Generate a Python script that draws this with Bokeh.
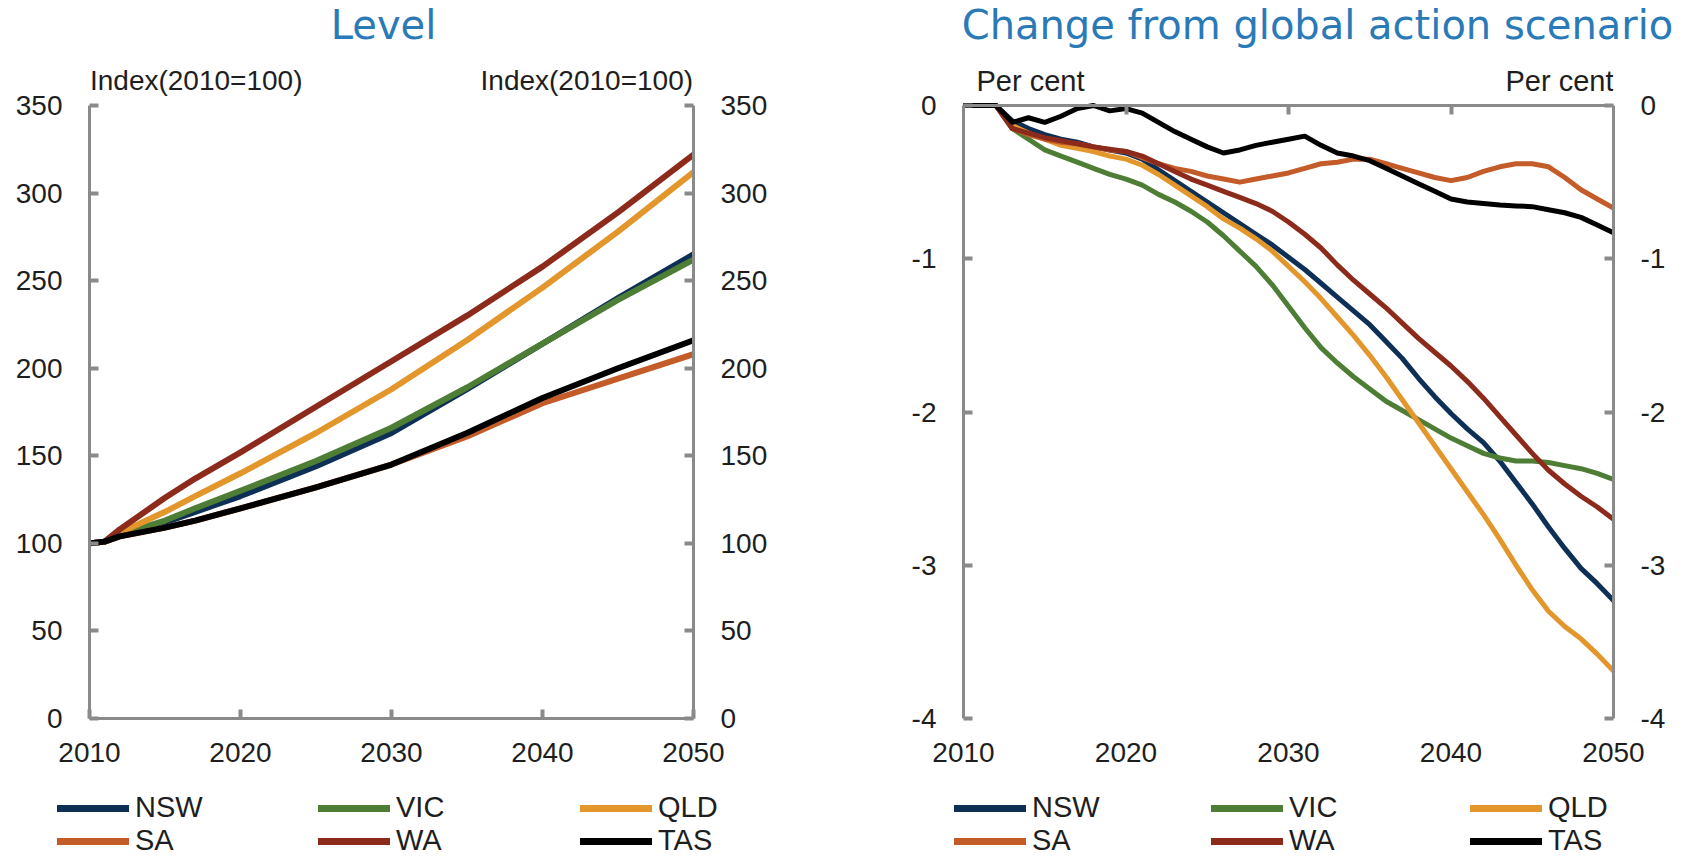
from bokeh.plotting import figure
from bokeh.layouts import row, column
from bokeh.models import (Range1d, FixedTicker, LinearAxis, Label, Legend, LegendItem,
                          PrintfTickFormatter)
from bokeh.embed import file_html
from bokeh.resources import INLINE

# ---------------- data ----------------
STATES = ["NSW", "VIC", "QLD", "SA", "WA", "TAS"]
COLORS = {"NSW": "#0e2f56", "VIC": "#4e7d36", "QLD": "#e3962b",
          "SA": "#c45c2a", "WA": "#8c2a1c", "TAS": "#000000"}

LEVEL_YEARS = [2010, 2011, 2012, 2015, 2017, 2020, 2025, 2030, 2035, 2040, 2045, 2050]
LEVEL_NSW = [100, 101, 105, 112, 118, 127, 144, 163, 188, 214, 240, 265]
LEVEL_VIC = [100, 101, 105, 113, 120, 130, 147, 166, 189, 214, 239, 262]
LEVEL_QLD = [100, 101, 106, 118, 127, 140, 163, 188, 216, 246, 278, 312]
LEVEL_SA = [100, 101, 104, 109, 113, 120, 132, 145, 161, 180, 194, 208]
LEVEL_WA = [100, 101, 108, 126, 137, 152, 178, 204, 230, 258, 289, 322]
LEVEL_TAS = [100, 101, 104, 109, 113, 120, 132, 145, 163, 183, 200, 216]

CHG_YEARS = list(range(2010, 2051))
CHG_NSW = [0, 0, 0, -0.10, -0.15, -0.19, -0.22, -0.24, -0.27, -0.29, -0.31, -0.35, -0.42, -0.49,
           -0.56, -0.63, -0.70, -0.77, -0.84, -0.91, -0.99, -1.07, -1.16, -1.25, -1.34, -1.43,
           -1.54, -1.65, -1.78, -1.90, -2.01, -2.11, -2.20, -2.32, -2.46, -2.60, -2.75, -2.89,
           -3.02, -3.12, -3.23]
CHG_VIC = [0, 0, 0, -0.15, -0.22, -0.29, -0.33, -0.37, -0.41, -0.45, -0.48, -0.52, -0.58, -0.63,
           -0.69, -0.76, -0.85, -0.95, -1.05, -1.17, -1.31, -1.45, -1.58, -1.68, -1.77, -1.85,
           -1.93, -1.99, -2.05, -2.11, -2.17, -2.22, -2.27, -2.30, -2.32, -2.32, -2.33, -2.35,
           -2.37, -2.40, -2.44]
CHG_QLD = [0, 0, 0, -0.13, -0.18, -0.22, -0.26, -0.28, -0.30, -0.33, -0.35, -0.39, -0.45, -0.52,
           -0.59, -0.66, -0.74, -0.80, -0.87, -0.95, -1.05, -1.15, -1.26, -1.38, -1.50, -1.63,
           -1.77, -1.92, -2.07, -2.22, -2.37, -2.52, -2.67, -2.83, -3.00, -3.16, -3.30, -3.40,
           -3.48, -3.58, -3.69]
CHG_SA = [0, 0, 0, -0.15, -0.19, -0.22, -0.24, -0.25, -0.27, -0.29, -0.30, -0.34, -0.38, -0.41,
          -0.43, -0.46, -0.48, -0.50, -0.48, -0.46, -0.44, -0.41, -0.38, -0.37, -0.35, -0.35,
          -0.38, -0.41, -0.44, -0.47, -0.49, -0.47, -0.43, -0.40, -0.38, -0.38, -0.40, -0.47,
          -0.55, -0.61, -0.67]
CHG_WA = [0, 0, 0, -0.15, -0.18, -0.21, -0.23, -0.25, -0.27, -0.285, -0.30, -0.33, -0.38, -0.43,
          -0.48, -0.52, -0.56, -0.60, -0.64, -0.69, -0.76, -0.84, -0.93, -1.04, -1.14, -1.23,
          -1.32, -1.42, -1.52, -1.61, -1.70, -1.80, -1.91, -2.03, -2.15, -2.27, -2.38, -2.47,
          -2.55, -2.62, -2.70]
CHG_TAS = [0, 0, 0, -0.11, -0.08, -0.11, -0.07, -0.02, 0.0, -0.035, -0.02, -0.05, -0.11, -0.17,
           -0.22, -0.27, -0.31, -0.29, -0.26, -0.24, -0.22, -0.20, -0.26, -0.31, -0.33, -0.36,
           -0.41, -0.46, -0.51, -0.56, -0.61, -0.63, -0.64, -0.65, -0.655, -0.66, -0.68, -0.70,
           -0.73, -0.78, -0.83]

X_TICKS = [2010, 2020, 2030, 2040, 2050]
TOP_TICKS = [2020, 2030, 2040]
LEVEL_TICKS = [0, 50, 100, 150, 200, 250, 300, 350]
CHG_TICKS = [0, -1, -2, -3, -4]

LEFT_TITLE = "Level"
RIGHT_TITLE = "Change from global action scenario"
LEFT_UNIT = "Index(2010=100)"
RIGHT_UNIT = "Per cent"
LEGEND_COLUMNS = [["NSW", "SA"], ["VIC", "WA"], ["QLD", "TAS"]]

level = {"NSW": LEVEL_NSW, "VIC": LEVEL_VIC, "QLD": LEVEL_QLD,
         "SA": LEVEL_SA, "WA": LEVEL_WA, "TAS": LEVEL_TAS}
chg = {"NSW": CHG_NSW, "VIC": CHG_VIC, "QLD": CHG_QLD,
       "SA": CHG_SA, "WA": CHG_WA, "TAS": CHG_TAS}

# ---------------- layout / styling ----------------
PAGE_W = 1691
HEADER_H = 50
FRAME_H = 668          # frame runs from below the titles down to the x axis
PLOT_H = 613           # height of the value area (0..350 / -4..0)
BOTTOM_B = 70
FOOTER_H = 856 - HEADER_H - FRAME_H - BOTTOM_B
EXTRA = (FRAME_H - PLOT_H) / PLOT_H
AX_COL = "#8a8a8a"
TXT_COL = "#1e1e1e"
TICK_FONT = "Liberation Sans"
TICK_SIZE = "28px"
TITLE_COL = "#2a7ab8"
TITLE_FONT = "DejaVu Sans"


def style_axis(ax, show_line=True, show_ticks=True, standoff=27, label_size=TICK_SIZE):
    ax.axis_line_color = AX_COL if show_line else None
    ax.axis_line_width = 3
    ax.major_tick_line_color = AX_COL if show_ticks else None
    ax.major_tick_line_width = 4
    ax.major_tick_in = 9
    ax.major_tick_out = 0
    ax.minor_tick_line_color = None
    ax.major_label_text_font = TICK_FONT
    ax.major_label_text_font_size = label_size
    ax.major_label_text_color = TXT_COL
    ax.major_label_standoff = standoff


def blank_fig(h):
    p = figure(width=PAGE_W, height=h, x_range=Range1d(0, PAGE_W), y_range=Range1d(h, 0),
               x_axis_type=None, y_axis_type=None, min_border=0,
               output_backend="svg", toolbar_location=None)
    p.outline_line_color = None
    p.xgrid.visible = False
    p.ygrid.visible = False
    return p


def make_fig(yr, fw, mbl, mbr):
    p = figure(frame_width=fw, frame_height=FRAME_H, min_border_left=mbl, min_border_right=mbr,
               min_border_top=0, min_border_bottom=BOTTOM_B,
               x_range=Range1d(2010, 2050), y_range=Range1d(*yr),
               output_backend="svg", toolbar_location=None)
    p.outline_line_color = None
    p.xgrid.visible = False
    p.ygrid.visible = False
    return p


def unit_label(p, x, y, text, align, size):
    p.add_layout(Label(x=x, y=y, text=text, text_align=align, text_baseline="middle",
                       text_font=TICK_FONT, text_font_size=size, text_color=TXT_COL))


# ---------------- header (titles) ----------------
head = blank_fig(HEADER_H)
for txt, x in [(LEFT_TITLE, 383), (RIGHT_TITLE, 1317)]:
    head.add_layout(Label(x=x, y=24, text=txt, text_align="center", text_baseline="middle",
                          text_font=TITLE_FONT, text_font_size="40px", text_color=TITLE_COL))

# ---------------- left chart ----------------
p1 = make_fig((0, 350 * (1 + EXTRA)), 604, 89, 152)
for s in STATES:
    p1.line(LEVEL_YEARS, level[s], line_color=COLORS[s], line_width=6,
            line_join="round", line_cap="round")
xa = p1.xaxis[0]
xa.ticker = FixedTicker(ticks=X_TICKS)
style_axis(xa, standoff=24)
ya = p1.yaxis[0]
ya.ticker = FixedTicker(ticks=LEVEL_TICKS)
ya.bounds = (0, 350)
style_axis(ya)
ra = LinearAxis(ticker=FixedTicker(ticks=LEVEL_TICKS), bounds=(0, 350))
style_axis(ra)
p1.add_layout(ra, "right")
u1 = 350 + 25 * 350 / PLOT_H
unit_label(p1, 2010.03, u1, LEFT_UNIT, "left", "28px")
unit_label(p1, 2049.97, u1, LEFT_UNIT, "right", "28px")

# ---------------- right chart ----------------
R_PX = 650 / 40.0
p2 = make_fig((-4, 4 * EXTRA), 650, 118, 78)
for s in STATES:
    p2.line(CHG_YEARS, chg[s], line_color=COLORS[s], line_width=5,
            line_join="round", line_cap="round")
xb = p2.xaxis[0]
xb.ticker = FixedTicker(ticks=X_TICKS)
style_axis(xb, show_line=False, show_ticks=False, standoff=24)
fmt = PrintfTickFormatter(format="%d")
yb = p2.yaxis[0]
yb.ticker = FixedTicker(ticks=CHG_TICKS)
yb.formatter = fmt
yb.bounds = (-4, 0)
style_axis(yb)
ra2 = LinearAxis(ticker=FixedTicker(ticks=CHG_TICKS), formatter=fmt, bounds=(-4, 0))
style_axis(ra2)
p2.add_layout(ra2, "right")
ta = LinearAxis(ticker=FixedTicker(ticks=TOP_TICKS), bounds=(2010, 2050), fixed_location=0)
style_axis(ta, standoff=0, label_size="0px")
ta.major_label_text_color = None
ta.major_tick_in = 0
ta.major_tick_out = 9
p2.add_layout(ta, "below")
u2 = 25 * 4 / PLOT_H
unit_label(p2, 2010 + 13 / R_PX, u2, RIGHT_UNIT, "left", "29px")
unit_label(p2, 2050.0, u2, RIGHT_UNIT, "right", "29px")

# ---------------- footer (legends) ----------------
# legend key renderers carry the series data but sit outside the footer's pixel ranges
foot = blank_fig(FOOTER_H)
for xs in ([57, 318, 580], [954, 1211, 1470]):
    for grp, x in zip(LEGEND_COLUMNS, xs):
        items = []
        for s in grp:
            r = foot.line(CHG_YEARS, chg[s], line_color=COLORS[s], line_width=7,
                          line_cap="round")
            items.append(LegendItem(label=s, renderers=[r]))
        lg = Legend(items=items, location=(x, -1), orientation="vertical",
                    glyph_width=72, glyph_height=32, label_height=32, label_standoff=6,
                    spacing=0, padding=0, margin=0, border_line_color=None,
                    background_fill_alpha=0, label_text_font=TICK_FONT,
                    label_text_font_size="29px", label_text_color=TXT_COL,
                    label_text_baseline="middle")
        foot.add_layout(lg, "center")

layout = column(head, row(p1, p2), foot)
open("out.html", "w").write(file_html(layout, INLINE))
